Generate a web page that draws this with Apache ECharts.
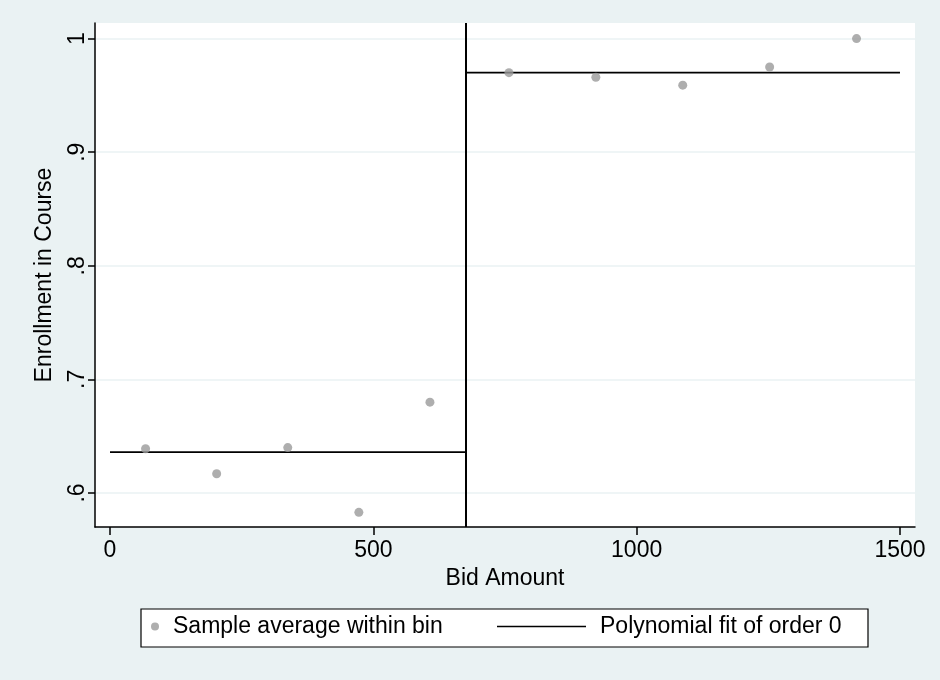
<!DOCTYPE html>
<html>
<head>
<meta charset="utf-8">
<script src="https://cdn.jsdelivr.net/npm/echarts@6/dist/echarts.min.js"></script>
<style>
  html, body { margin: 0; padding: 0; background: #EAF2F3; }
  #chart { width: 940px; height: 680px; }
</style>
</head>
<body>
<div id="chart"></div>
<script>
// ---- data ----
var binCenters = [67.5, 202.5, 337.5, 472.5, 607.5, 757.5, 922.5, 1087.5, 1252.5, 1417.5];
var binMeans   = [0.639, 0.617, 0.640, 0.583, 0.680, 0.970, 0.966, 0.959, 0.975, 1.000];
var cutoff = 675;
var fitLeftX  = [0, 675];
var fitLeftY  = [0.636, 0.636];
var fitRightX = [675, 1500];
var fitRightY = [0.970, 0.970];
var xTicks = [0, 500, 1000, 1500];
var yTicks = [0.6, 0.7, 0.8, 0.9, 1.0];
var xTitle = 'Bid Amount';
var yTitle = 'Enrollment in Course';
var scatterName = 'Sample average within bin';
var fitName = 'Polynomial fit of order 0';

function zip(a, b) { return a.map(function (v, i) { return [v, b[i]]; }); }

var FONT = 'Liberation Sans, Arial, Helvetica, sans-serif';
var chart = echarts.init(document.getElementById('chart'), null, { renderer: 'canvas' });

chart.setOption({
  backgroundColor: '#EAF2F3',
  animation: false,
  textStyle: { fontFamily: FONT },
  grid: { left: 95, right: 25, top: 23, bottom: 153, show: true, backgroundColor: '#ffffff', borderWidth: 0 },
  graphic: [{
    type: 'rect', z: 0,
    shape: { x: 141, y: 609, width: 727, height: 38 },
    style: { fill: '#ffffff', stroke: '#000000', lineWidth: 1.2 }
  }],
  legend: [{
    data: [{ name: scatterName, icon: 'circle' }],
    left: 151, top: 615, padding: 0, z: 10,
    itemWidth: 8, itemHeight: 8,
    textStyle: { fontSize: 23, color: '#000', fontFamily: FONT, padding: [0, 0, 0, 9] }
  }, {
    data: [{ name: fitName, icon: 'rect', itemStyle: { color: '#000' } }],
    left: 497, top: 615, padding: 0, z: 10,
    itemWidth: 89, itemHeight: 1.6,
    textStyle: { fontSize: 23, color: '#000', fontFamily: FONT, padding: [0, 0, 0, 9] }
  }],
  xAxis: {
    type: 'value', min: -28.5, max: 1528.5,
    name: xTitle, nameLocation: 'middle', nameGap: 37,
    nameTextStyle: { fontSize: 23, color: '#000', fontFamily: FONT },
    axisLine: { show: true, onZero: false, lineStyle: { color: '#000', width: 1.5 } },
    axisTick: { show: true, length: 8, customValues: xTicks, lineStyle: { color: '#000', width: 1.5 } },
    axisLabel: {
      customValues: xTicks, margin: 12, fontSize: 23, color: '#000', fontFamily: FONT,
      formatter: function (v) { return String(v); }
    },
    splitLine: { show: false }
  },
  yAxis: {
    type: 'value', min: 0.5701, max: 1.0137,
    name: yTitle, nameLocation: 'middle', nameGap: 39, nameRotate: 90,
    nameTextStyle: { fontSize: 23, color: '#000', fontFamily: FONT },
    axisLine: { show: true, onZero: false, lineStyle: { color: '#000', width: 1.5 } },
    axisTick: { show: true, length: 7, customValues: yTicks, lineStyle: { color: '#000', width: 1.5 } },
    axisLabel: {
      customValues: yTicks, rotate: 90, margin: 6, fontSize: 23, color: '#000', fontFamily: FONT,
      formatter: function (v) { return v >= 1 ? '1' : String(Math.round(v * 10) / 10).replace('0.', '.'); }
    },
    splitLine: { show: true, lineStyle: { color: '#EAF2F3', width: 1.5 } }
  },
  series: [{
    name: scatterName, type: 'scatter', symbol: 'circle', symbolSize: 9,
    itemStyle: { color: '#9a9a9a' },
    data: zip(binCenters, binMeans),
    z: 3,
    markLine: {
      silent: true, symbol: ['none', 'none'], label: { show: false },
      lineStyle: { color: '#000', width: 2, type: 'solid' },
      emphasis: { disabled: true },
      data: [{ xAxis: cutoff }]
    }
  }, {
    name: fitName, type: 'line', symbol: 'none', z: 2,
    lineStyle: { color: '#000', width: 1.8 }, itemStyle: { color: '#000' },
    data: zip(fitLeftX, fitLeftY)
  }, {
    name: fitName, type: 'line', symbol: 'none', z: 2,
    lineStyle: { color: '#000', width: 1.8 }, itemStyle: { color: '#000' },
    data: zip(fitRightX, fitRightY)
  }]
});
</script>
</body>
</html>
